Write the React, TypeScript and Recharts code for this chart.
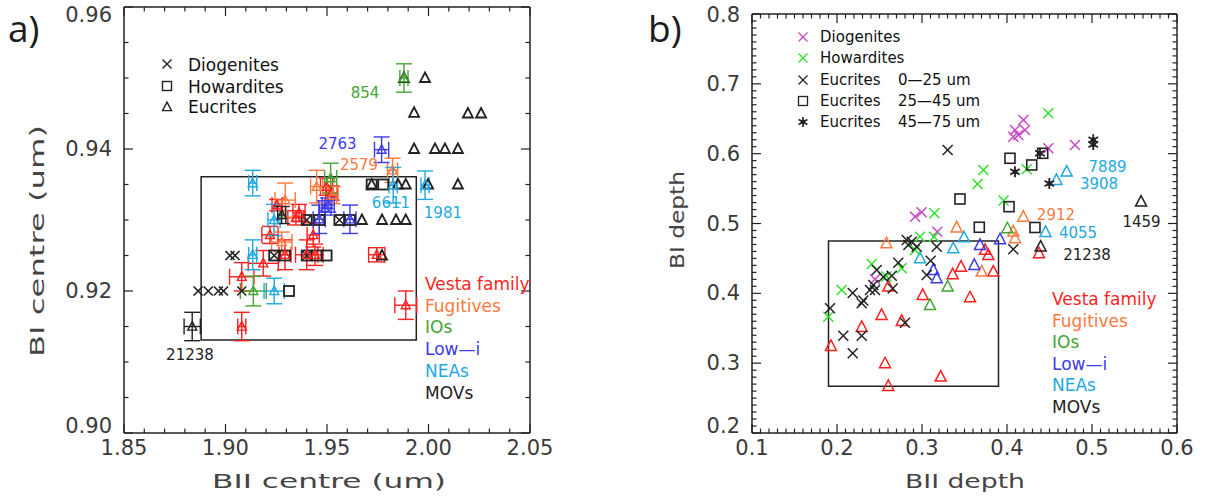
import React from 'react';
import { ScatterChart, Scatter, XAxis, YAxis, ErrorBar, ReferenceArea } from 'recharts';

const RED = '#ff1f1f';
const ORANGE = '#fb7a3c';
const IO_GREEN = '#45a534';
const BLUE = '#3b3bea';
const CYAN = '#1ea9e1';
const MAGENTA = '#c848c8';
const LIME = '#30e030';
const INK = '#222';

type Pt = { x: number; y: number; ex?: number; ey?: number };
type Note = { x: number; y: number; text: string; color: string };

// ---------- panel a : band centres ----------
const aDiogenites: Pt[] = [
  { x: 1.9022, y: 0.925 }, { x: 1.9047, y: 0.925 },
  { x: 1.8865, y: 0.92 }, { x: 1.8915, y: 0.92 }, { x: 1.8965, y: 0.92 }, { x: 1.899, y: 0.92 }, { x: 1.908, y: 0.92 },
  { x: 1.924, y: 0.925 }, { x: 1.94, y: 0.925 }, { x: 1.94, y: 0.93 }, { x: 1.9561, y: 0.93 },
];
const aHowardites: Pt[] = [
  { x: 1.924, y: 0.925 }, { x: 1.9293, y: 0.925 }, { x: 1.94, y: 0.925 }, { x: 1.9449, y: 0.925 }, { x: 1.9498, y: 0.925 },
  { x: 1.94, y: 0.93 }, { x: 1.9462, y: 0.93 }, { x: 1.9561, y: 0.93 }, { x: 1.9613, y: 0.93 },
  { x: 1.972, y: 0.935 }, { x: 1.9777, y: 0.935 }, { x: 1.9313, y: 0.92 },
];
const aEucrites: Pt[] = [
  { x: 1.9879, y: 0.95 }, { x: 1.9983, y: 0.95 },
  { x: 1.9929, y: 0.9451 }, { x: 2.0194, y: 0.945 }, { x: 2.0259, y: 0.945 },
  { x: 1.9929, y: 0.94 }, { x: 2.0032, y: 0.94 }, { x: 2.0081, y: 0.94 }, { x: 2.0145, y: 0.94 },
  { x: 1.972, y: 0.935 }, { x: 1.985, y: 0.935 }, { x: 1.9888, y: 0.935 }, { x: 1.9998, y: 0.935 }, { x: 2.0145, y: 0.935 },
  { x: 1.9672, y: 0.93 }, { x: 1.9771, y: 0.93 }, { x: 1.984, y: 0.93 }, { x: 1.9888, y: 0.93 },
  { x: 1.9771, y: 0.925 },
];
const aVesta: Pt[] = [
  { x: 1.9254, y: 0.9321, ex: 0.0025, ey: 0.0008 },
  { x: 1.9347, y: 0.9303, ex: 0.004, ey: 0.001 },
  { x: 1.9362, y: 0.931, ex: 0.003, ey: 0.0012 },
  { x: 1.9498, y: 0.9347, ex: 0.003, ey: 0.0012 },
  { x: 1.9523, y: 0.9338, ex: 0.003, ey: 0.001 },
  { x: 1.9432, y: 0.9279, ex: 0.003, ey: 0.0017 },
  { x: 1.9219, y: 0.9279, ex: 0.004, ey: 0.0012 },
  { x: 1.9186, y: 0.9239, ex: 0.0074, ey: 0.0018 },
  { x: 1.9293, y: 0.9251, ex: 0.003, ey: 0.0021 },
  { x: 1.94, y: 0.9251, ex: 0.0055, ey: 0.0021 },
  { x: 1.9441, y: 0.9251, ex: 0.004, ey: 0.0015 },
  { x: 1.9745, y: 0.9251, ex: 0.004, ey: 0.001 },
  { x: 1.908, y: 0.922, ex: 0.006, ey: 0.002 },
  { x: 1.908, y: 0.915, ex: 0.002, ey: 0.002 },
  { x: 1.9888, y: 0.918, ex: 0.0054, ey: 0.002 },
];
const aFugitives: Pt[] = [
  { x: 1.9294, y: 0.9328, ex: 0.005, ey: 0.0024 },
  { x: 1.9449, y: 0.9347, ex: 0.003, ey: 0.0023 },
  { x: 1.9277, y: 0.9269, ex: 0.005, ey: 0.0014 },
  { x: 1.9823, y: 0.937, ex: 0.0025, ey: 0.0017 },
  { x: 1.9528, y: 0.9335, ex: 0.002, ey: 0.0012 },
];
const aIOs: Pt[] = [
  { x: 1.9518, y: 0.9359, ex: 0.003, ey: 0.0021 },
  { x: 1.9879, y: 0.95, ex: 0.002, ey: 0.002 },
  { x: 1.9137, y: 0.92, ex: 0.0064, ey: 0.0021 },
];
const aLowI: Pt[] = [
  { x: 1.9769, y: 0.9399, ex: 0.0035, ey: 0.0018 },
  { x: 1.9506, y: 0.9321, ex: 0.003, ey: 0.001 },
  { x: 1.949, y: 0.9317, ex: 0.003, ey: 0.001 },
  { x: 1.9462, y: 0.9301, ex: 0.003, ey: 0.002 },
  { x: 1.9613, y: 0.9301, ex: 0.003, ey: 0.002 },
];
const aNEAs: Pt[] = [
  { x: 1.9134, y: 0.9352, ex: 0.002, ey: 0.0018 },
  { x: 1.9239, y: 0.93, ex: 0.003, ey: 0.0022 },
  { x: 1.9134, y: 0.9251, ex: 0.002, ey: 0.0021 },
  { x: 1.924, y: 0.92, ex: 0.005, ey: 0.0018 },
  { x: 1.9826, y: 0.9349, ex: 0.002, ey: 0.0025 },
  { x: 1.9983, y: 0.9349, ex: 0.002, ey: 0.002 },
];
const aMOVs: Pt[] = [
  { x: 1.8836, y: 0.915, ex: 0.004, ey: 0.002 },
  { x: 1.9277, y: 0.9307, ex: 0.002, ey: 0.0012 },
];
const aNotes: Note[] = [
  { x: 1.9687, y: 0.9479, text: '854', color: IO_GREEN },
  { x: 1.9552, y: 0.9407, text: '2763', color: BLUE },
  { x: 1.9658, y: 0.9377, text: '2579', color: ORANGE },
  { x: 1.9815, y: 0.9324, text: '6611', color: CYAN },
  { x: 2.0071, y: 0.931, text: '1981', color: CYAN },
  { x: 1.8825, y: 0.911, text: '21238', color: INK },
];
const aBox = { x1: 1.888, x2: 1.994, y1: 0.9131, y2: 0.9361 };

// ---------- panel b : band depths ----------
const bDiogenites: Pt[] = [
  { x: 0.2918, y: 0.5097 }, { x: 0.2996, y: 0.516 }, { x: 0.318, y: 0.4883 }, { x: 0.2447, y: 0.4201 },
  { x: 0.4192, y: 0.6482 }, { x: 0.4133, y: 0.6267 }, { x: 0.4094, y: 0.6339 }, { x: 0.4212, y: 0.6339 },
  { x: 0.4074, y: 0.6243 }, { x: 0.4486, y: 0.6077 }, { x: 0.48, y: 0.6124 },
];
const bHowardites: Pt[] = [
  { x: 0.3721, y: 0.5766 }, { x: 0.3653, y: 0.5566 }, { x: 0.396, y: 0.533 }, { x: 0.4232, y: 0.5776 },
  { x: 0.4486, y: 0.6578 }, { x: 0.3146, y: 0.5146 }, { x: 0.3141, y: 0.4811 }, { x: 0.2976, y: 0.4811 },
  { x: 0.2918, y: 0.4621 }, { x: 0.2408, y: 0.442 }, { x: 0.2761, y: 0.4358 }, { x: 0.2582, y: 0.4241 },
  { x: 0.2055, y: 0.4048 }, { x: 0.1898, y: 0.3665 },
];
const bEuc0to25: Pt[] = [
  { x: 0.3302, y: 0.6053 }, { x: 0.282, y: 0.4764 }, { x: 0.2839, y: 0.4692 }, { x: 0.2879, y: 0.4739 },
  { x: 0.2938, y: 0.4668 }, { x: 0.3173, y: 0.4668 }, { x: 0.4074, y: 0.4631 }, { x: 0.3102, y: 0.4467 },
  { x: 0.2721, y: 0.4439 }, { x: 0.2467, y: 0.4334 }, { x: 0.3055, y: 0.4263 }, { x: 0.2545, y: 0.4234 },
  { x: 0.2644, y: 0.4253 }, { x: 0.2427, y: 0.4119 }, { x: 0.2388, y: 0.4048 }, { x: 0.2447, y: 0.4048 },
  { x: 0.2655, y: 0.4069 }, { x: 0.2185, y: 0.4005 }, { x: 0.2291, y: 0.3857 }, { x: 0.2309, y: 0.3897 },
  { x: 0.1918, y: 0.3786 }, { x: 0.28, y: 0.358 }, { x: 0.2074, y: 0.3393 }, { x: 0.2291, y: 0.3393 },
  { x: 0.2185, y: 0.3141 },
];
const bEuc25to45: Pt[] = [
  { x: 0.3447, y: 0.5351 }, { x: 0.4024, y: 0.5241 }, { x: 0.4035, y: 0.5934 }, { x: 0.4291, y: 0.5838 },
  { x: 0.442, y: 0.6005 }, { x: 0.3674, y: 0.4946 }, { x: 0.4329, y: 0.4943 },
];
const bEuc45to75: Pt[] = [
  { x: 0.4388, y: 0.6005 }, { x: 0.4094, y: 0.5742 }, { x: 0.4498, y: 0.5573 }, { x: 0.5015, y: 0.62 },
  { x: 0.5015, y: 0.613 },
];
const bVesta: Pt[] = [
  { x: 0.3741, y: 0.4621 }, { x: 0.378, y: 0.4549 }, { x: 0.3459, y: 0.4381 }, { x: 0.3839, y: 0.431 },
  { x: 0.3361, y: 0.4273 }, { x: 0.2604, y: 0.4098 }, { x: 0.3008, y: 0.3976 }, { x: 0.3565, y: 0.3943 },
  { x: 0.2524, y: 0.369 }, { x: 0.2761, y: 0.3604 }, { x: 0.2291, y: 0.3518 }, { x: 0.1929, y: 0.3246 },
  { x: 0.2565, y: 0.2998 }, { x: 0.322, y: 0.2806 }, { x: 0.2604, y: 0.2673 }, { x: 0.4376, y: 0.4573 },
];
const bFugitives: Pt[] = [
  { x: 0.2582, y: 0.4716 }, { x: 0.3408, y: 0.4943 }, { x: 0.4192, y: 0.5097 }, { x: 0.4094, y: 0.4788 },
  { x: 0.4074, y: 0.4883 }, { x: 0.3702, y: 0.431 },
];
const bIOs: Pt[] = [{ x: 0.4004, y: 0.4931 }, { x: 0.3302, y: 0.4098 }, { x: 0.3094, y: 0.3833 }];
const bLowI: Pt[] = [
  { x: 0.3918, y: 0.4774 }, { x: 0.3682, y: 0.4692 }, { x: 0.3615, y: 0.4406 }, { x: 0.3133, y: 0.4334 },
  { x: 0.3173, y: 0.4215 },
];
const bNEAs: Pt[] = [
  { x: 0.4702, y: 0.5742 }, { x: 0.4582, y: 0.5623 }, { x: 0.4453, y: 0.4878 }, { x: 0.3494, y: 0.4802 },
  { x: 0.3368, y: 0.4645 }, { x: 0.2976, y: 0.4502 },
];
const bMOVs: Pt[] = [{ x: 0.5577, y: 0.5312 }, { x: 0.4396, y: 0.4668 }];
const bNotes: Note[] = [
  { x: 0.5183, y: 0.5805, text: '7889', color: CYAN },
  { x: 0.5082, y: 0.5565, text: '3908', color: CYAN },
  { x: 0.4576, y: 0.5122, text: '2912', color: ORANGE },
  { x: 0.4835, y: 0.4864, text: '4055', color: CYAN },
  { x: 0.4941, y: 0.4549, text: '21238', color: INK },
  { x: 0.5583, y: 0.5022, text: '1459', color: INK },
];
const bBox = { x1: 0.19, x2: 0.39, y1: 0.267, y2: 0.475 };

// ---------- ticks ----------
const range = (a: number, b: number, step: number) => {
  const out: number[] = [];
  const n = Math.round((b - a) / step);
  for (let i = 0; i <= n; i++) out.push(+(a + i * step).toFixed(4));
  return out;
};
const aXMajor = [1.85, 1.9, 1.95, 2.0, 2.05];
const aYMajor = [0.9, 0.92, 0.94, 0.96];
const aXTicks = range(1.85, 2.05, 0.01);
const aYTicks = range(0.9, 0.96, 0.005);
const bXMajor = [0.1, 0.2, 0.3, 0.4, 0.5, 0.6];
const bYMajor = [0.2, 0.3, 0.4, 0.5, 0.6, 0.7, 0.8];
const bXTicks = range(0.1, 0.6, 0.01);
const bYTicks = range(0.2, 0.8, 0.01);

const isMajor = (v: number, majors: number[]) => majors.some((m) => Math.abs(m - v) < 1e-6);
const tickFont = { fontFamily: 'DejaVu Sans', fontSize: 21, fill: '#3a3a3a' };

const makeTick = (side: 'bottom' | 'top' | 'left' | 'right', majors: number[], digits: number, len: [number, number]) =>
  (p: any) => {
    const v = p.payload.value;
    const major = isMajor(v, majors);
    const l = major ? len[0] : len[1];
    let line;
    let label = null;
    if (side === 'bottom') {
      line = <line x1={p.x} y1={p.y} x2={p.x} y2={p.y - l} stroke={INK} strokeWidth={1.2} />;
      if (major) label = <text x={p.x} y={p.y + 15} textAnchor="middle" dominantBaseline="central" {...tickFont}>{v.toFixed(digits)}</text>;
    } else if (side === 'top') {
      line = <line x1={p.x} y1={p.y} x2={p.x} y2={p.y + l} stroke={INK} strokeWidth={1.2} />;
    } else if (side === 'left') {
      line = <line x1={p.x} y1={p.y} x2={p.x + l} y2={p.y} stroke={INK} strokeWidth={1.2} />;
      // lowest label sits a little above its tick, the top one is kept inside the page
      const shift = Math.abs(v - majors[0]) < 1e-6 ? -7 : 0;
      const ly = Math.max(p.y + shift, 15);
      if (major) label = <text x={p.x - 12} y={ly} textAnchor="end" dominantBaseline="central" {...tickFont}>{v.toFixed(digits)}</text>;
    } else {
      line = <line x1={p.x} y1={p.y} x2={p.x - l} y2={p.y} stroke={INK} strokeWidth={1.2} />;
    }
    return <g>{line}{label}</g>;
  };

// ---------- symbols ----------
const tri = (color: string, s: number, sw: number) => (p: any) => {
  if (p.cx == null) return <g />;
  const { cx, cy } = p;
  return (
    <polygon
      points={`${cx},${cy - s * 0.55} ${cx - s / 2},${cy + s * 0.4} ${cx + s / 2},${cy + s * 0.4}`}
      fill="none" stroke={color} strokeWidth={sw}
    />
  );
};
const cross = (color: string, s: number, sw: number) => (p: any) => {
  if (p.cx == null) return <g />;
  const { cx, cy } = p;
  const h = s / 2;
  return (
    <g stroke={color} strokeWidth={sw}>
      <line x1={cx - h} y1={cy - h} x2={cx + h} y2={cy + h} />
      <line x1={cx - h} y1={cy + h} x2={cx + h} y2={cy - h} />
    </g>
  );
};
const square = (color: string, s: number, sw: number) => (p: any) => {
  if (p.cx == null) return <g />;
  return <rect x={p.cx - s / 2} y={p.cy - s / 2} width={s} height={s} fill="none" stroke={color} strokeWidth={sw} />;
};
const star = (color: string, s: number, sw: number) => (p: any) => {
  if (p.cx == null) return <g />;
  const { cx, cy } = p;
  const h = s / 2;
  const dx = h * 0.87;
  const dy = h * 0.5;
  return (
    <g stroke={color} strokeWidth={sw}>
      <line x1={cx} y1={cy - h} x2={cx} y2={cy + h} />
      <line x1={cx - dx} y1={cy - dy} x2={cx + dx} y2={cy + dy} />
      <line x1={cx - dx} y1={cy + dy} x2={cx + dx} y2={cy - dy} />
      <circle cx={cx} cy={cy} r={1.6} fill={color} />
    </g>
  );
};
const noteShape = (size: number) => (p: any) => {
  if (p.cx == null) return <g />;
  return (
    <text x={p.cx} y={p.cy} textAnchor="middle" dominantBaseline="central" fontFamily="DejaVu Sans" fontSize={size} fill={p.payload.color}>
      {p.payload.text}
    </text>
  );
};

const errSeries = (name: string, data: Pt[], color: string) => (
  <Scatter key={name} name={name} data={data} shape={tri(color, 9, 1.4)} isAnimationActive={false}>
    <ErrorBar dataKey="ex" direction="x" width={8} stroke={color} strokeWidth={1.4} />
    <ErrorBar dataKey="ey" direction="y" width={8} stroke={color} strokeWidth={1.4} />
  </Scatter>
);

// axes take 1px each (a zero-size axis is not drawn), the margins allow for it
const axes = (
  xDom: [number, number], yDom: [number, number], xTicks: number[], yTicks: number[],
  xMaj: number[], yMaj: number[], xd: number, yd: number, len: [number, number],
) => [
  <XAxis key="xb" type="number" dataKey="x" domain={xDom} ticks={xTicks} interval={0} height={1} tickSize={0} tickMargin={0}
    tickLine={false} axisLine={{ stroke: INK, strokeWidth: 1.5 }} tick={makeTick('bottom', xMaj, xd, len)} allowDataOverflow />,
  <XAxis key="xt" xAxisId="top" orientation="top" type="number" dataKey="x" domain={xDom} ticks={xTicks} interval={0} height={1}
    tickSize={0} tickMargin={0} tickLine={false} axisLine={{ stroke: INK, strokeWidth: 1.5 }} tick={makeTick('top', xMaj, xd, len)} allowDataOverflow />,
  <YAxis key="yl" type="number" dataKey="y" domain={yDom} ticks={yTicks} interval={0} width={1} tickSize={0} tickMargin={0}
    tickLine={false} axisLine={{ stroke: INK, strokeWidth: 1.5 }} tick={makeTick('left', yMaj, yd, len)} allowDataOverflow />,
  <YAxis key="yr" yAxisId="right" orientation="right" type="number" dataKey="y" domain={yDom} ticks={yTicks} interval={0} width={1}
    tickSize={0} tickMargin={0} tickLine={false} axisLine={{ stroke: INK, strokeWidth: 1.5 }} tick={makeTick('right', yMaj, yd, len)} allowDataOverflow />,
];

const PanelA = () => (
  <ScatterChart width={600} height={500} margin={{ top: 6, left: 123, right: 69, bottom: 66 }}>
    {axes([1.85, 2.05], [0.9, 0.96], aXTicks, aYTicks, aXMajor, aYMajor, 2, 2, [9, 4.5])}
    <ReferenceArea {...aBox} fill="none" fillOpacity={0} stroke={INK} strokeWidth={1.5} ifOverflow="visible" />
    <Scatter name="Diogenites" data={aDiogenites} shape={cross(INK, 9, 1.6)} isAnimationActive={false} />
    <Scatter name="Howardites" data={aHowardites} shape={square(INK, 10, 1.8)} isAnimationActive={false} />
    <Scatter name="Eucrites" data={aEucrites} shape={tri(INK, 10, 1.8)} isAnimationActive={false} />
    {errSeries('Vesta family', aVesta, RED)}
    {errSeries('Fugitives', aFugitives, ORANGE)}
    {errSeries('IOs', aIOs, IO_GREEN)}
    {errSeries('Low-i', aLowI, BLUE)}
    {errSeries('NEAs', aNEAs, CYAN)}
    {errSeries('MOVs', aMOVs, INK)}
    <Scatter name="labels" data={aNotes} shape={noteShape(15)} isAnimationActive={false} />
  </ScatterChart>
);

const PanelB = () => (
  <ScatterChart width={605} height={500} margin={{ top: 13, left: 146, right: 32, bottom: 66 }}>
    {axes([0.1, 0.6], [0.2, 0.8], bXTicks, bYTicks, bXMajor, bYMajor, 1, 1, [9, 4.5])}
    <ReferenceArea {...bBox} fill="none" fillOpacity={0} stroke={INK} strokeWidth={1.5} ifOverflow="visible" />
    <Scatter name="Vesta family" data={bVesta} shape={tri(RED, 11, 1.5)} isAnimationActive={false} />
    <Scatter name="Fugitives" data={bFugitives} shape={tri(ORANGE, 11, 1.5)} isAnimationActive={false} />
    <Scatter name="IOs" data={bIOs} shape={tri(IO_GREEN, 11, 1.5)} isAnimationActive={false} />
    <Scatter name="Low-i" data={bLowI} shape={tri(BLUE, 11, 1.5)} isAnimationActive={false} />
    <Scatter name="NEAs" data={bNEAs} shape={tri(CYAN, 11, 1.5)} isAnimationActive={false} />
    <Scatter name="MOVs" data={bMOVs} shape={tri(INK, 11, 1.5)} isAnimationActive={false} />
    <Scatter name="Diogenites" data={bDiogenites} shape={cross(MAGENTA, 10, 1.5)} isAnimationActive={false} />
    <Scatter name="Howardites" data={bHowardites} shape={cross(LIME, 10, 1.5)} isAnimationActive={false} />
    <Scatter name="Eucrites 0-25 um" data={bEuc0to25} shape={cross(INK, 10, 1.5)} isAnimationActive={false} />
    <Scatter name="Eucrites 25-45 um" data={bEuc25to45} shape={square(INK, 10, 1.6)} isAnimationActive={false} />
    <Scatter name="Eucrites 45-75 um" data={bEuc45to75} shape={star(INK, 11, 1.8)} isAnimationActive={false} />
    <Scatter name="labels" data={bNotes} shape={noteShape(15)} isAnimationActive={false} />
  </ScatterChart>
);

const groupNames = ['Vesta family', 'Fugitives', 'IOs', 'Low\u2014i', 'NEAs', 'MOVs'];
const groupColors = [RED, ORANGE, IO_GREEN, BLUE, CYAN, INK];

const Overlay = () => {
  const txt = { fontFamily: 'DejaVu Sans', dominantBaseline: 'central' as const };
  return (
    <svg width={1210} height={500} style={{ position: 'absolute', left: 0, top: 0, pointerEvents: 'none' }}>
      <text x={8} y={42} fontFamily="Open Sans" fontSize={37} fill="#1c1c1c">a)</text>
      <text x={648} y={42} fontFamily="Open Sans" fontSize={37} fill="#1c1c1c">b)</text>

      <text x={329} y={481} textAnchor="middle" fontSize={20} fill="#444" textLength={234} lengthAdjust="spacingAndGlyphs" {...txt}>BII centre (um)</text>
      <text transform="translate(37,241) rotate(-90)" textAnchor="middle" fontSize={20} fill="#444" textLength={232} lengthAdjust="spacingAndGlyphs" {...txt}>BI centre (um)</text>
      <text x={965} y={481} textAnchor="middle" fontSize={20} fill="#444" textLength={120} lengthAdjust="spacingAndGlyphs" {...txt}>BII depth</text>
      <text transform="translate(677,220) rotate(-90)" textAnchor="middle" fontSize={20} fill="#444" textLength={98} lengthAdjust="spacingAndGlyphs" {...txt}>BI depth</text>

      {/* panel a meteorite key */}
      {cross(INK, 9, 1.4)({ cx: 167, cy: 64 })}
      {square(INK, 9, 1.4)({ cx: 167, cy: 86 })}
      {tri(INK, 9, 1.4)({ cx: 167, cy: 107 })}
      <text x={188} y={65} fontSize={17} fill="#111" {...txt}>Diogenites</text>
      <text x={188} y={87} fontSize={17} fill="#111" {...txt}>Howardites</text>
      <text x={188} y={107} fontSize={17} fill="#111" {...txt}>Eucrites</text>

      {groupNames.map((n, i) => (
        <text key={'a' + n} x={425} y={284 + i * 21.7} fontSize={17} fill={groupColors[i]} {...txt}>{n}</text>
      ))}

      {/* panel b meteorite key */}
      {cross(MAGENTA, 9, 1.3)({ cx: 803, cy: 37 })}
      {cross(LIME, 9, 1.3)({ cx: 803, cy: 58 })}
      {cross(INK, 9, 1.3)({ cx: 803, cy: 80 })}
      {square(INK, 9, 1.3)({ cx: 803, cy: 101 })}
      {star(INK, 10, 1.6)({ cx: 803, cy: 122 })}
      <text x={820} y={37} fontSize={15} fill="#111" {...txt}>Diogenites</text>
      <text x={820} y={58} fontSize={15} fill="#111" {...txt}>Howardites</text>
      <text x={820} y={80} fontSize={15} fill="#111" {...txt}>Eucrites</text>
      <text x={820} y={101} fontSize={15} fill="#111" {...txt}>Eucrites</text>
      <text x={820} y={122} fontSize={15} fill="#111" {...txt}>Eucrites</text>
      <text x={898} y={80} fontSize={15} fill="#111" {...txt}>0{'\u2014'}25  um</text>
      <text x={898} y={101} fontSize={15} fill="#111" {...txt}>25{'\u2014'}45  um</text>
      <text x={898} y={122} fontSize={15} fill="#111" {...txt}>45{'\u2014'}75  um</text>

      {groupNames.map((n, i) => (
        <text key={'b' + n} x={1052} y={299 + i * 21.5} fontSize={17} fill={groupColors[i]} {...txt}>{n}</text>
      ))}
    </svg>
  );
};

export default function App() {
  return (
    <div style={{ position: 'absolute', left: 0, top: 0, width: 1210, height: 500, background: '#fff' }}>
      <div style={{ position: 'absolute', left: 0, top: 0 }}>
        <PanelA />
      </div>
      <div style={{ position: 'absolute', left: 605, top: 0 }}>
        <PanelB />
      </div>
      <Overlay />
    </div>
  );
}
